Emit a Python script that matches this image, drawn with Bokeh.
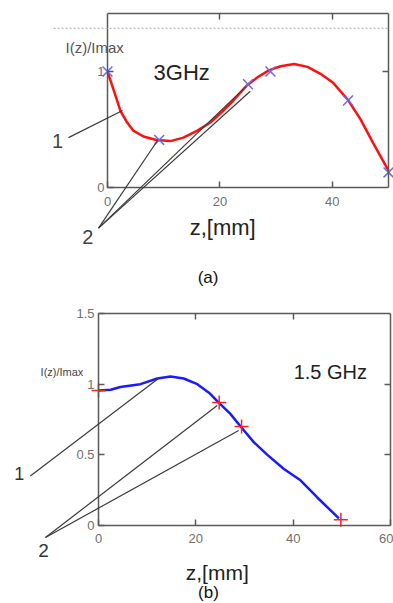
from bokeh.plotting import figure
from bokeh.models import Range1d, LinearAxis, FixedTicker, Label, Arrow
from bokeh.layouts import column
from bokeh.embed import file_html
from bokeh.resources import INLINE

FONT = "Liberation Sans"

# ---- data: chart (a) 3 GHz ----
a_curve_z = [0, 1.1, 2.3, 3.5, 4.6, 6.4, 8.7, 11.2, 13.5, 16.0, 18.3, 20.1, 22.4, 24.9,
             26.7, 28.7, 30.8, 33.2, 35.6, 37.9, 40.2, 42.8, 45.0, 47.3, 50.0]
a_curve_i = [1.0, 0.84, 0.66, 0.56, 0.49, 0.44, 0.41, 0.40, 0.43, 0.49, 0.56, 0.64, 0.75, 0.884,
             0.95, 1.01, 1.045, 1.064, 1.04, 0.98, 0.90, 0.754, 0.59, 0.38, 0.145]
a_meas_z = [0, 9.2, 25.0, 29.0, 42.8, 50.0]
a_meas_i = [1.0, 0.41, 0.89, 1.0, 0.75, 0.13]
a_xticks = [0, 20, 40]
a_yticks = [0, 1]

# ---- data: chart (b) 1.5 GHz ----
b_curve_z = [0, 2.5, 4.5, 8.6, 12.1, 14.8, 17.5, 20.3, 22.7, 24.7, 27.1, 29.2, 31.9, 34.7,
             38.1, 41.5, 44.9, 49.4]
b_curve_i = [0.955, 0.96, 0.98, 1.0, 1.04, 1.055, 1.04, 1.0, 0.94, 0.87, 0.79, 0.70, 0.59, 0.50,
             0.40, 0.32, 0.20, 0.05]
b_meas_z = [0, 24.8, 29.4, 49.8]
b_meas_i = [0.955, 0.87, 0.70, 0.04]
b_xticks = [0, 20, 40, 60]
b_yticks = [0, 0.5, 1, 1.5]

# leader lines (start -> end), in data units of each chart
a_leaders = [((-6.94, 0.43), (2.67, 0.664)),
             ((-1.6, -0.35), (8.9, 0.405)),
             ((-1.6, -0.35), (24.6, 0.87)),
             ((-1.6, -0.35), (25.4, 0.83))]
b_leaders = [((-14.0, 0.35), (12.3, 1.04)),
             ((-10.9, -0.085), (24.4, 0.849)),
             ((-10.9, -0.085), (28.8, 0.672))]


def make_chart(W, H, box, xlim, ylim, xt, yt, x_standoff, y_standoff):
    """box = (left, top, right, bottom) of the plotting box in canvas pixels."""
    l, t, r, b = box
    kx = (xlim[1] - xlim[0]) / (r - l)
    ky = (ylim[1] - ylim[0]) / (b - t)
    xr = Range1d(xlim[0] - l * kx, xlim[1] + (W - r) * kx)
    yr = Range1d(ylim[0] - (H - b) * ky, ylim[1] + t * ky)
    p = figure(x_range=xr, y_range=yr, width=W, height=H,
               min_border_left=0, min_border_right=0, min_border_top=0, min_border_bottom=0,
               output_backend="svg", toolbar_location=None,
               x_axis_location=None, y_axis_location=None)
    p.grid.visible = False
    p.outline_line_color = None
    p.background_fill_color = "white"
    p.border_fill_color = "white"
    specs = [("below", xt, ylim[0], xlim, True, x_standoff),
             ("above", [v for v in xt if v not in xlim], ylim[1], xlim, False, 0),
             ("left", yt, xlim[0], ylim, True, y_standoff),
             ("right", [v for v in yt if v not in ylim], xlim[1], ylim, False, 0)]
    for side, ticks, loc, bounds, lab, standoff in specs:
        ax = LinearAxis(fixed_location=loc, bounds=bounds)
        ax.ticker = FixedTicker(ticks=ticks)
        ax.major_tick_in = 6
        ax.major_tick_out = 0
        ax.minor_tick_line_color = None
        ax.axis_line_color = "#5a5a5a"
        ax.axis_line_width = 1.5
        ax.major_tick_line_color = "#5a5a5a"
        ax.major_tick_line_width = 1.5
        ax.major_label_text_font = FONT
        ax.major_label_text_font_size = "13px"
        ax.major_label_text_color = "#707070" if lab else None
        ax.major_label_standoff = standoff
        p.add_layout(ax, side)
    return p


def add_label(p, x, y, text, size, color="#333333", align="center"):
    p.add_layout(Label(x=x, y=y, text=text, text_font=FONT, text_font_size=size,
                       text_color=color, text_align=align, text_baseline="middle"))


def add_leaders(p, leaders, dash="solid", color="#3a3a3a"):
    for (x0, y0), (x1, y1) in leaders:
        p.add_layout(Arrow(x_start=x0, y_start=y0, x_end=x1, y_end=y1, end=None,
                           line_color=color, line_width=1.2, line_dash=dash))


# ---- chart (a): canvas = page x 0..393, y 0..290 ----
pa = make_chart(393, 290, (107, 13, 388, 187), (0, 50), (0, 1.5), a_xticks, a_yticks, 9, 3)
pa.line(a_curve_z, a_curve_i, line_color="#ff1010", line_width=2.5)
pa.scatter(a_meas_z, a_meas_i, marker="x", size=14, line_color="#6a6af0", line_width=1.5)
add_leaders(pa, [((-9.6, 1.371), (50, 1.371))], dash="2 2", color="#bbbbbb")
add_leaders(pa, a_leaders)
add_label(pa, -7.47, 1.207, "I(z)/Imax", "15px", "#555555", "left")
add_label(pa, 8.2, 0.99, "3GHz", "22px", "#222222", "left")
add_label(pa, -8.9, 0.40, "1", "20px", "#444444")
add_label(pa, -3.5, -0.43, "2", "20px", "#444444")
add_label(pa, 20.5, -0.345, "z,[mm]", "22px", "#222222")
add_label(pa, 17.9, -0.775, "(a)", "17px", "#111111")

# ---- chart (b): canvas = page x 0..393, y 290..603 ----
pb = make_chart(393, 313, (98, 23, 390, 235), (0, 60), (0, 1.5), b_xticks, b_yticks, 8, 4)
pb.line(b_curve_z, b_curve_i, line_color="#1a1aff", line_width=2.5)
pb.scatter(b_meas_z, b_meas_i, marker="cross", size=14, line_color="#ff2020", line_width=1.5)
add_leaders(pb, b_leaders)
add_label(pb, -11.9, 1.083, "I(z)/Imax", "11px", "#444444", "left")
add_label(pb, 40.1, 1.083, "1.5 GHz", "20px", "#222222", "left")
add_label(pb, -16.3, 0.368, "1", "18px", "#333333")
add_label(pb, -11.3, -0.18, "2", "19px", "#333333")
add_label(pb, 24.4, -0.333, "z,[mm]", "21px", "#222222")
add_label(pb, 22.6, -0.476, "(b)", "17px", "#111111")

layout = column(pa, pb, spacing=0)
open("out.html", "w").write(file_html(layout, INLINE))
